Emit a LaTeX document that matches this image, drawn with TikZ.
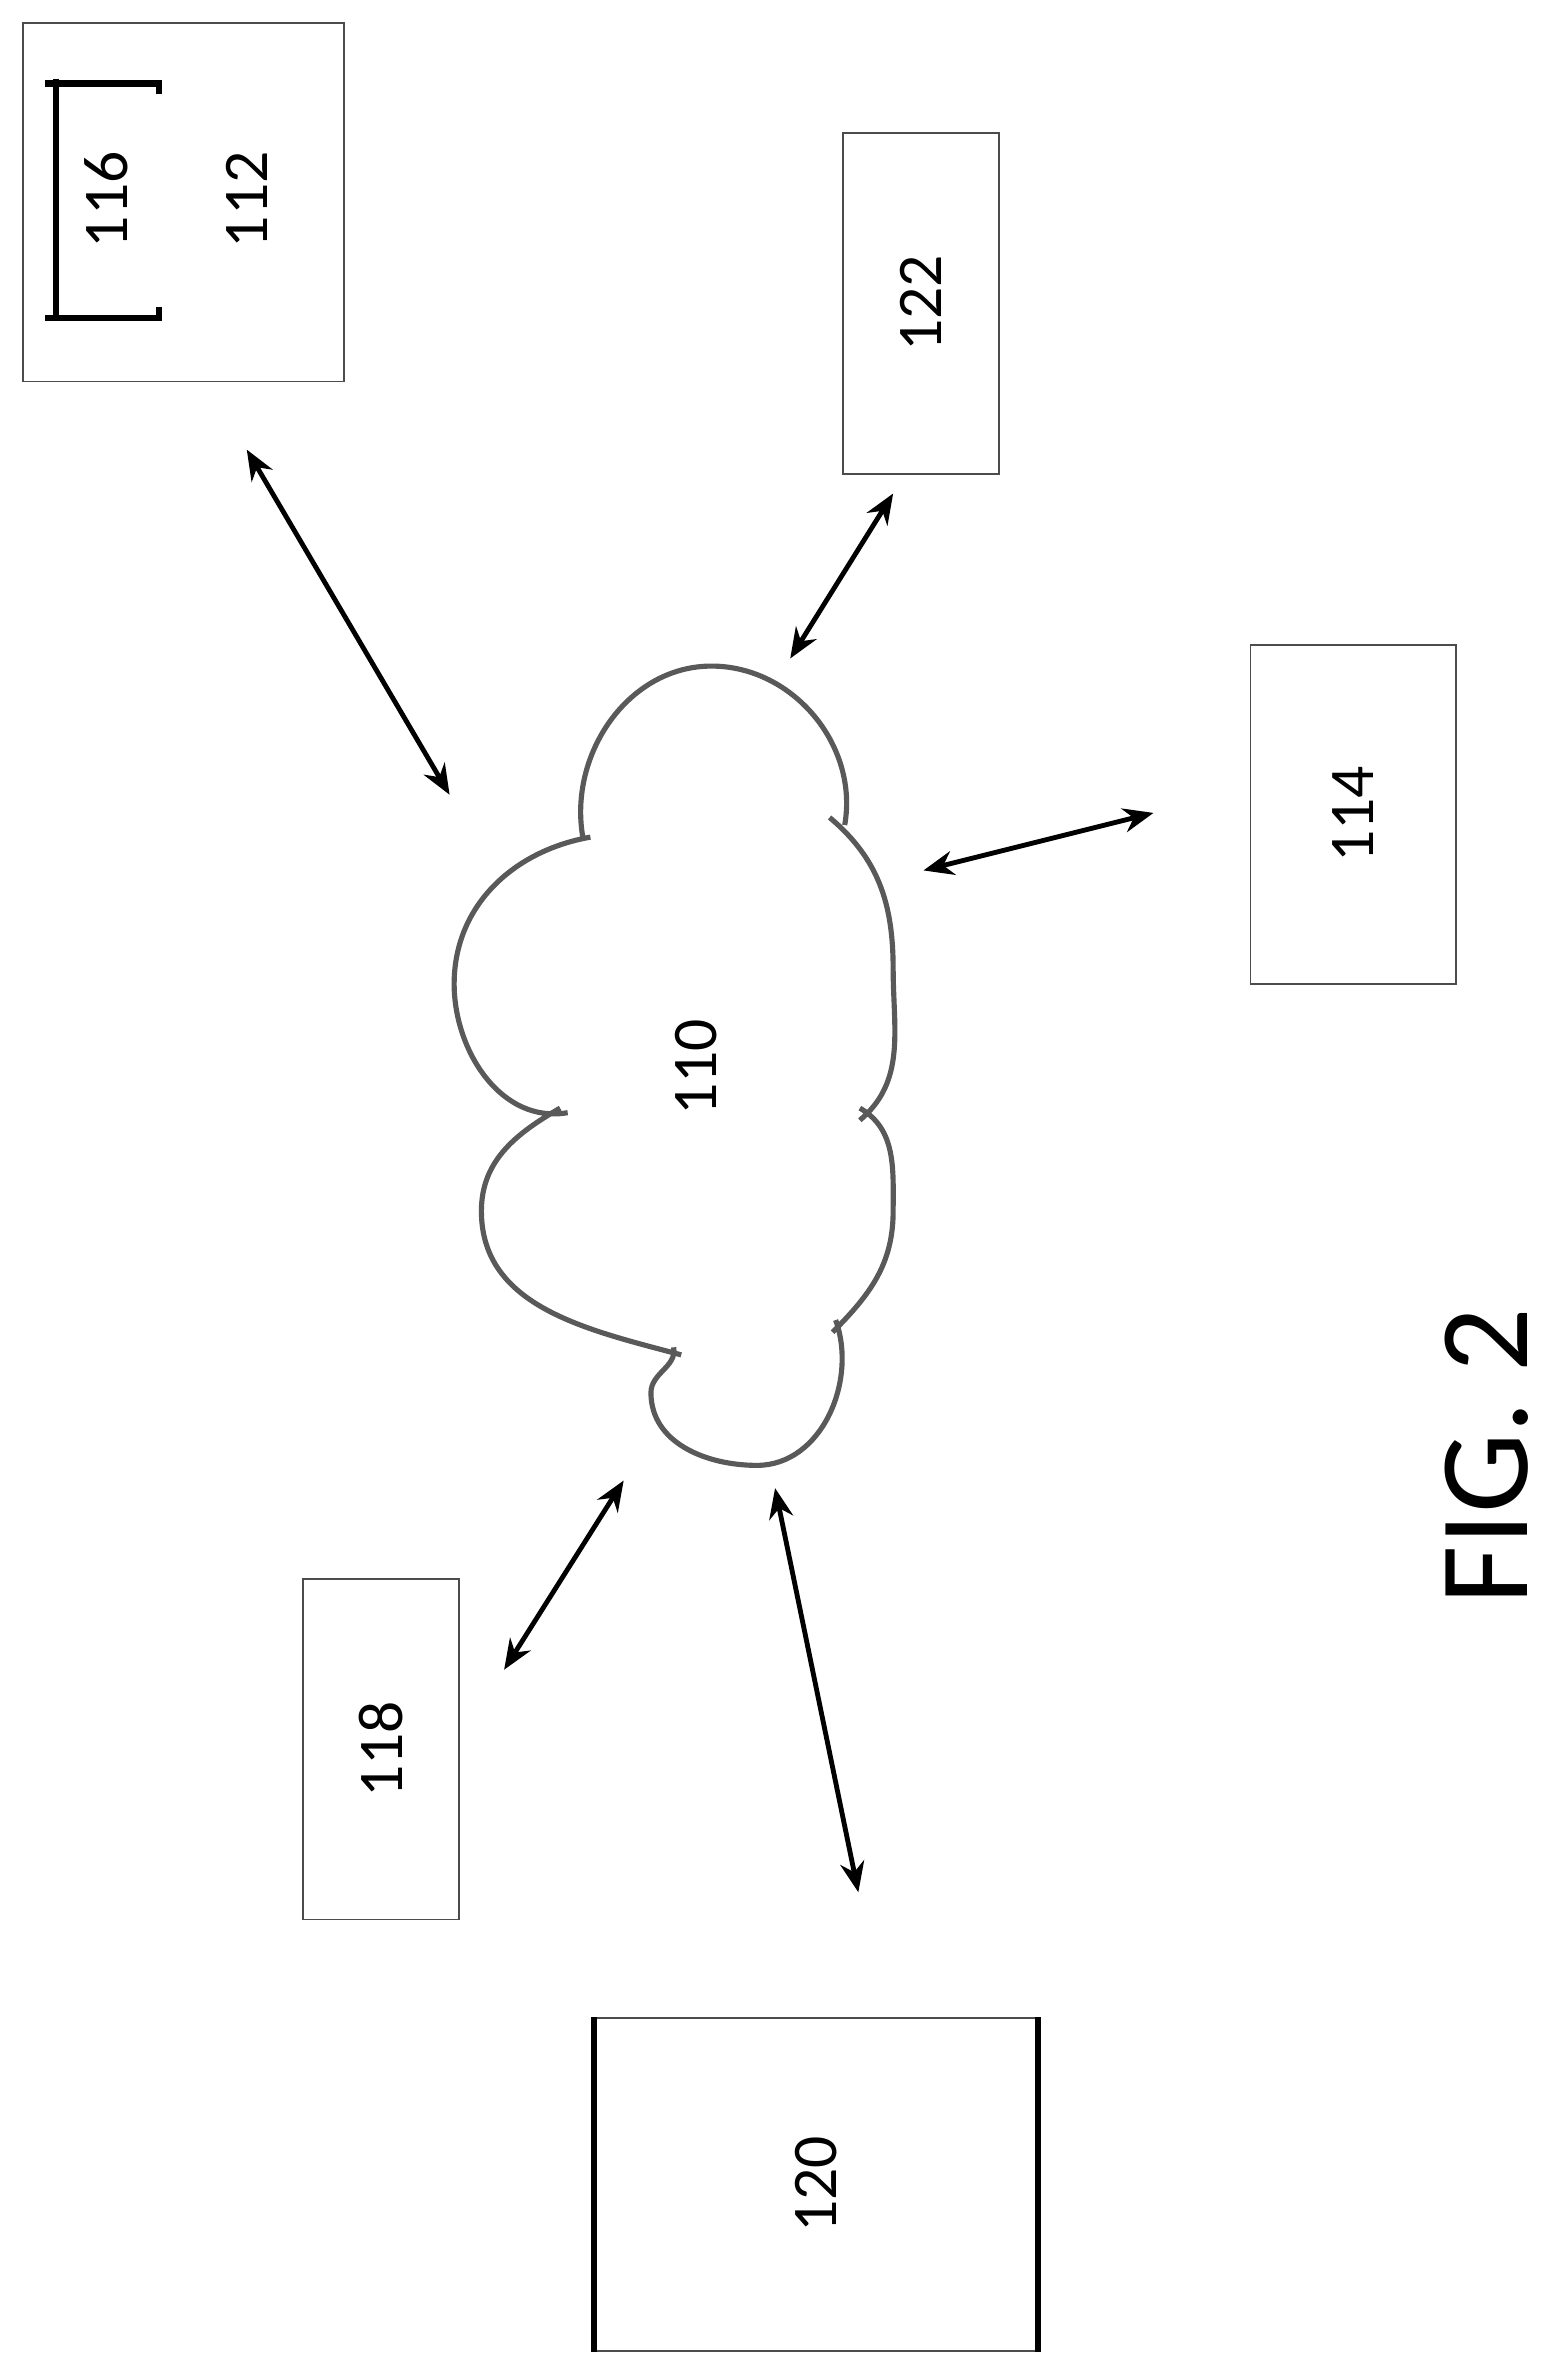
\documentclass[tikz,border=0pt]{standalone}
\usepackage{fontspec}
\setmainfont{Carlito}
\usetikzlibrary{arrows.meta}
\begin{document}
\begin{tikzpicture}[x=0.5pt,y=0.5pt,
  box/.style={draw=black!70,line width=0.6pt,inner sep=0pt},
  lbl/.style={rotate=90,font=\fontsize{21}{21}\selectfont},
  link/.style={line width=1.6pt,{Stealth[length=10pt,width=8pt]}-{Stealth[length=10pt,width=8pt]}},
  cloud/.style={draw=black!65,line width=1.7pt}]
\useasboundingbox (0,0) rectangle (1024,-1557);
\node[box,minimum width=106pt,minimum height=118.5pt] (b112) at (121,-133.5) {};
\draw[line width=2.2pt] (37,-52) -- (37,-212);
\draw[line width=2.2pt] (30,-55) -- (105,-55) -- (105,-62);
\draw[line width=2.2pt] (30,-210) -- (105,-210) -- (105,-203);
\node[lbl] (t116) at (70,-132) {116};
\node[lbl] (t112) at (163,-132) {112};
\node[box,minimum width=51.5pt,minimum height=112.5pt] (b122) at (608.5,-200.5) {};
\node[lbl] at (b122) {122};
\node[box,minimum width=68pt,minimum height=112pt] (b114) at (894,-538) {};
\node[lbl] at (b114) {114};
\node[box,minimum width=51.5pt,minimum height=112.5pt] (b118) at (251.5,-1155.5) {};
\node[lbl] at (b118) {118};
\node[box,minimum width=146pt,minimum height=110pt] (b120) at (539,-1443) {};
\draw[line width=1.8pt] (b120.north west) -- (b120.south west) (b120.north east) -- (b120.south east);
\node[lbl] at (b120) {120};
\draw[cloud] (385,-553) to[out=100,in=180] (470,-440) to[out=0,in=80] (558,-545)
  (548,-540) to[out=-40,in=90] (590,-640) to[out=-90,in=40] (568,-740)
  (568,-732) to[out=-30,in=90] (590,-800) to[out=-90,in=45] (550,-880)
  (552,-872) to[out=-70,in=0] (500,-968) to[out=180,in=-90] (430,-920) to[out=90,in=-80] (445,-890)
  (450,-895) to[out=165,in=-90] (318,-800) to[out=90,in=210] (370,-732)
  (375,-735) to[out=190,in=-90] (300,-650) to[out=90,in=-170] (390,-553);
\node[lbl] (t110) at (460,-705) {110};
\node[rotate=90,font=\fontsize{42}{42}\selectfont,inner sep=0pt] (fig) at (982,-962) {FIG. 2};
\coordinate (a1) at (163,-297); \coordinate (a2) at (297,-525);
\coordinate (c1) at (590,-326); \coordinate (c2) at (522,-435);
\coordinate (d1) at (610,-575); \coordinate (d2) at (762,-537);
\coordinate (e1) at (412,-978); \coordinate (e2) at (333,-1103);
\coordinate (f1) at (512,-983); \coordinate (f2) at (567,-1250);
\draw[link] (a1) -- (a2);
\draw[link] (c1) -- (c2);
\draw[link] (d1) -- (d2);
\draw[link] (e1) -- (e2);
\draw[link] (f1) -- (f2);
\end{tikzpicture}
\end{document}
